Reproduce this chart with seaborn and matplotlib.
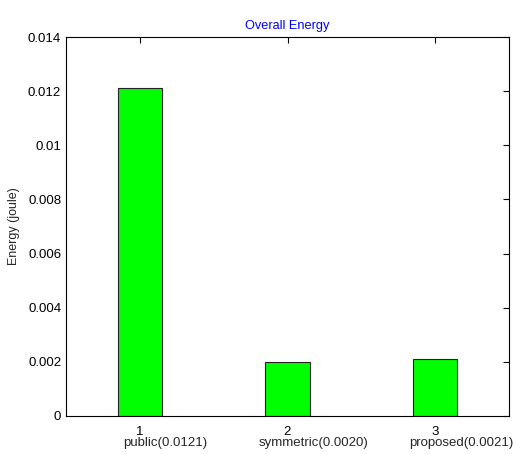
import numpy as np
import pandas as pd
import matplotlib
matplotlib.use("Agg")
import matplotlib.pyplot as plt
import seaborn as sns

sns.set_style("white")
plt.rcParams['font.family'] = ['Liberation Sans', 'DejaVu Sans']
plt.rcParams['font.size'] = 9

# data
bar_ids = ["1", "2", "3"]
schemes = ["public(0.0121)", "symmetric(0.0020)", "proposed(0.0021)"]
energy = [0.0121, 0.0020, 0.0021]

df = pd.DataFrame({"id": bar_ids, "Energy": energy})

fig = plt.figure(figsize=(5.13, 4.54), dpi=100)
ax = fig.add_axes([66/513, 1 - 416/454, (509-66)/513, (416-37)/454])

sns.barplot(ax=ax, data=df, x="id", y="Energy", color="#00ff00",
            saturation=1, width=0.3, edgecolor="#222222", linewidth=0.8)

ax.set_xlim(-0.5, 2.5)
ax.set_ylim(0, 0.014)
ax.set_yticks(np.arange(0, 0.0141, 0.002))
ax.set_yticklabels(["0", "0.002", "0.004", "0.006", "0.008", "0.01", "0.012", "0.014"])
ax.tick_params(direction="in", length=4, top=True, right=True, width=0.8,
               labelsize=9.5, colors="black")
ax.tick_params(axis="x", pad=7)
for s in ax.spines.values():
    s.set_linewidth(0.8)
    s.set_color("black")
ax.set_xlabel("")
ax.set_ylabel("Energy (joule)", fontsize=9, labelpad=6)
ax.set_title("Overall Energy", color="blue", fontsize=9.2, pad=6)

# scheme names under tick numbers
for i, name in enumerate(schemes):
    ax.text(i + 0.175, -0.056, name, transform=ax.get_xaxis_transform(),
            ha="center", va="top", fontsize=9.5)

fig.savefig("out.png", dpi=100)
